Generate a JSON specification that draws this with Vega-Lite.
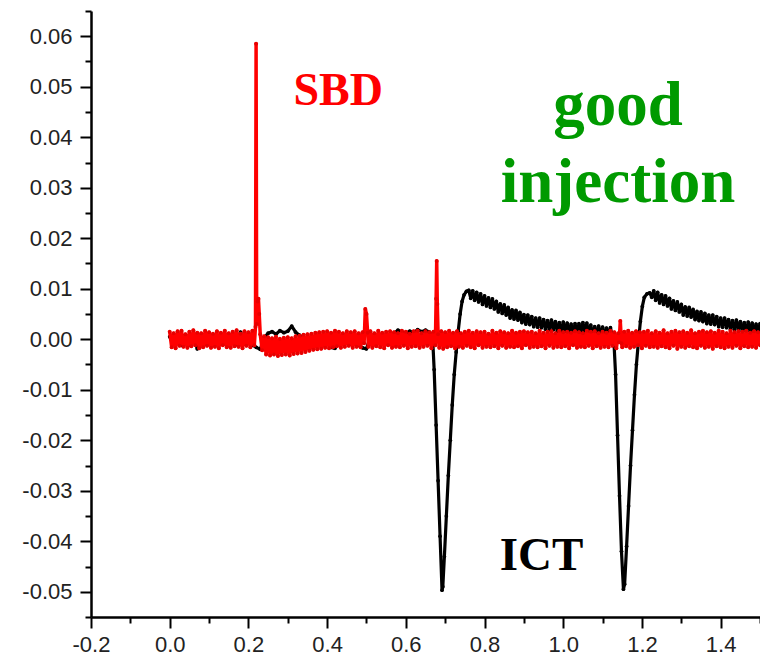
{
 "$schema": "https://vega.github.io/schema/vega-lite/v6.json",
 "width": 669,
 "height": 606,
 "autosize": "none",
 "padding": {"left": 91, "top": 11, "right": 0, "bottom": 42},
 "background": "white",
 "config": {"view": {"stroke": null}},
 "datasets": {
  "ict": [
   {"t":0.00,"v":0.0005},{"t":0.01,"v":-0.0010},{"t":0.02,"v":0.0008},{"t":0.03,"v":-0.0012},{"t":0.04,"v":0.0006},{"t":0.05,"v":-0.0011},{"t":0.06,"v":0.0009},{"t":0.07,"v":-0.0019},{"t":0.08,"v":0.0007},{"t":0.09,"v":-0.0010},
   {"t":0.10,"v":0.0008},{"t":0.11,"v":-0.0012},{"t":0.12,"v":0.0006},{"t":0.13,"v":-0.0009},{"t":0.14,"v":0.0010},{"t":0.15,"v":-0.0011},{"t":0.16,"v":0.0007},{"t":0.17,"v":-0.0010},{"t":0.18,"v":0.0014},{"t":0.19,"v":-0.0009},
   {"t":0.20,"v":0.0008},{"t":0.21,"v":-0.0011},{"t":0.22,"v":-0.0016},{"t":0.23,"v":-0.0020},{"t":0.24,"v":0.0003},{"t":0.25,"v":0.0012},{"t":0.26,"v":0.0015},{"t":0.27,"v":0.0010},{"t":0.28,"v":0.0017},{"t":0.29,"v":0.0013},
   {"t":0.30,"v":0.0016},{"t":0.31,"v":0.0026},{"t":0.32,"v":0.0014},{"t":0.33,"v":0.0008},{"t":0.34,"v":0.0002},{"t":0.35,"v":-0.0006},{"t":0.36,"v":0.0005},{"t":0.37,"v":-0.0008},{"t":0.38,"v":0.0010},{"t":0.39,"v":-0.0007},
   {"t":0.40,"v":0.0011},{"t":0.41,"v":-0.0016},{"t":0.42,"v":-0.0018},{"t":0.43,"v":0.0006},{"t":0.44,"v":-0.0010},{"t":0.45,"v":0.0009},{"t":0.46,"v":-0.0009},{"t":0.47,"v":0.0008},{"t":0.48,"v":-0.0011},{"t":0.49,"v":-0.0017},
   {"t":0.50,"v":-0.0019},{"t":0.51,"v":0.0005},{"t":0.52,"v":-0.0008},{"t":0.53,"v":0.0009},{"t":0.54,"v":-0.0009},{"t":0.55,"v":0.0010},{"t":0.56,"v":-0.0007},{"t":0.57,"v":0.0012},{"t":0.58,"v":0.0018},{"t":0.59,"v":0.0014},
   {"t":0.60,"v":0.0012},{"t":0.61,"v":0.0016},{"t":0.62,"v":0.0013},{"t":0.63,"v":0.0019},{"t":0.64,"v":0.0015},{"t":0.65,"v":0.0018},{"t":0.66,"v":0.0014},{"t":0.668,"v":0.0005},
   {"t":0.672,"v":-0.0060},{"t":0.677,"v":-0.0170},{"t":0.682,"v":-0.0280},{"t":0.687,"v":-0.0390},{"t":0.692,"v":-0.0497},{"t":0.694,"v":-0.0490},{"t":0.698,"v":-0.0430},{"t":0.703,"v":-0.0350},{"t":0.708,"v":-0.0270},{"t":0.713,"v":-0.0200},
   {"t":0.718,"v":-0.0130},{"t":0.723,"v":-0.0070},{"t":0.728,"v":-0.0025},{"t":0.733,"v":0.0015},{"t":0.738,"v":0.0050},{"t":0.743,"v":0.0075},{"t":0.748,"v":0.0088},{"t":0.754,"v":0.0095},
   {"t":0.760,"v":0.0097},{"t":0.765,"v":0.0081},{"t":0.770,"v":0.0096},{"t":0.775,"v":0.0077},{"t":0.780,"v":0.0093},{"t":0.785,"v":0.0074},{"t":0.790,"v":0.0090},{"t":0.795,"v":0.0069},{"t":0.800,"v":0.0086},{"t":0.805,"v":0.0066},
   {"t":0.810,"v":0.0082},{"t":0.815,"v":0.0063},{"t":0.820,"v":0.0080},{"t":0.825,"v":0.0060},{"t":0.830,"v":0.0075},{"t":0.835,"v":0.0054},{"t":0.840,"v":0.0070},{"t":0.845,"v":0.0051},{"t":0.850,"v":0.0068},{"t":0.855,"v":0.0048},
   {"t":0.860,"v":0.0063},{"t":0.865,"v":0.0042},{"t":0.870,"v":0.0058},{"t":0.875,"v":0.0040},{"t":0.880,"v":0.0057},{"t":0.885,"v":0.0038},{"t":0.890,"v":0.0053},{"t":0.895,"v":0.0033},{"t":0.900,"v":0.0049},{"t":0.905,"v":0.0030},
   {"t":0.910,"v":0.0048},{"t":0.915,"v":0.0029},{"t":0.920,"v":0.0045},{"t":0.925,"v":0.0025},{"t":0.930,"v":0.0042},{"t":0.935,"v":0.0024},{"t":0.940,"v":0.0042},{"t":0.945,"v":0.0023},{"t":0.950,"v":0.0039},{"t":0.955,"v":0.0020},
   {"t":0.960,"v":0.0037},{"t":0.965,"v":0.0019},{"t":0.970,"v":0.0038},{"t":0.975,"v":0.0019},{"t":0.980,"v":0.0035},{"t":0.985,"v":0.0016},{"t":0.990,"v":0.0033},{"t":0.995,"v":0.0015},{"t":1.000,"v":0.0034},{"t":1.005,"v":0.0016},
   {"t":1.010,"v":0.0032},{"t":1.015,"v":0.0013},{"t":1.020,"v":0.0030},{"t":1.025,"v":0.0012},{"t":1.030,"v":0.0031},{"t":1.035,"v":0.0013},{"t":1.040,"v":0.0031},{"t":1.045,"v":0.0014},{"t":1.050,"v":0.0033},{"t":1.055,"v":0.0015},
   {"t":1.060,"v":0.0032},{"t":1.065,"v":0.0012},{"t":1.070,"v":0.0028},{"t":1.075,"v":0.0008},{"t":1.080,"v":0.0025},{"t":1.085,"v":0.0008},{"t":1.090,"v":0.0026},{"t":1.095,"v":0.0008},{"t":1.100,"v":0.0024},{"t":1.105,"v":0.0005},
   {"t":1.110,"v":0.0022},{"t":1.115,"v":0.0005},{"t":1.120,"v":0.0023},{"t":1.125,"v":0.0004},{"t":1.128,"v":0.0008},
   {"t":1.133,"v":-0.0070},{"t":1.138,"v":-0.0190},{"t":1.143,"v":-0.0310},{"t":1.148,"v":-0.0420},{"t":1.153,"v":-0.0495},{"t":1.156,"v":-0.0485},{"t":1.161,"v":-0.0410},{"t":1.166,"v":-0.0330},{"t":1.171,"v":-0.0250},{"t":1.176,"v":-0.0180},
   {"t":1.181,"v":-0.0110},{"t":1.186,"v":-0.0050},{"t":1.191,"v":-0.0005},{"t":1.196,"v":0.0035},{"t":1.201,"v":0.0065},{"t":1.206,"v":0.0083},{"t":1.213,"v":0.0090},{"t":1.220,"v":0.0092},
   {"t":1.225,"v":0.0083},{"t":1.230,"v":0.0096},{"t":1.235,"v":0.0077},{"t":1.240,"v":0.0093},{"t":1.245,"v":0.0072},{"t":1.250,"v":0.0088},{"t":1.255,"v":0.0069},{"t":1.260,"v":0.0086},{"t":1.265,"v":0.0066},{"t":1.270,"v":0.0081},
   {"t":1.275,"v":0.0060},{"t":1.280,"v":0.0076},{"t":1.285,"v":0.0057},{"t":1.290,"v":0.0074},{"t":1.295,"v":0.0054},{"t":1.300,"v":0.0069},{"t":1.305,"v":0.0048},{"t":1.310,"v":0.0064},{"t":1.315,"v":0.0046},{"t":1.320,"v":0.0063},
   {"t":1.325,"v":0.0044},{"t":1.330,"v":0.0059},{"t":1.335,"v":0.0039},{"t":1.340,"v":0.0055},{"t":1.345,"v":0.0037},{"t":1.350,"v":0.0054},{"t":1.355,"v":0.0035},{"t":1.360,"v":0.0051},{"t":1.365,"v":0.0031},{"t":1.370,"v":0.0048},
   {"t":1.375,"v":0.0030},{"t":1.380,"v":0.0048},{"t":1.385,"v":0.0029},{"t":1.390,"v":0.0045},{"t":1.395,"v":0.0025},{"t":1.400,"v":0.0042},{"t":1.405,"v":0.0024},{"t":1.410,"v":0.0042},{"t":1.415,"v":0.0023},{"t":1.420,"v":0.0039},
   {"t":1.425,"v":0.0020},{"t":1.430,"v":0.0037},{"t":1.435,"v":0.0019},{"t":1.440,"v":0.0038},{"t":1.445,"v":0.0019},{"t":1.450,"v":0.0035},{"t":1.455,"v":0.0016},{"t":1.460,"v":0.0033},{"t":1.465,"v":0.0015},{"t":1.470,"v":0.0034},
   {"t":1.475,"v":0.0016},{"t":1.480,"v":0.0032},{"t":1.485,"v":0.0013},{"t":1.490,"v":0.0030},{"t":1.495,"v":0.0012},{"t":1.500,"v":0.0031}
  ],
  "sbd": [
   {"t":0.000,"v":0.0015},{"t":0.005,"v":-0.0016},{"t":0.010,"v":0.0012},{"t":0.015,"v":-0.0018},{"t":0.020,"v":0.0016},{"t":0.025,"v":-0.0013},{"t":0.030,"v":0.0017},{"t":0.035,"v":-0.0015},{"t":0.040,"v":0.0010},{"t":0.045,"v":-0.0017},
   {"t":0.050,"v":0.0015},{"t":0.055,"v":-0.0014},{"t":0.060,"v":0.0018},{"t":0.065,"v":-0.0012},{"t":0.070,"v":0.0013},{"t":0.075,"v":-0.0018},{"t":0.080,"v":0.0012},{"t":0.085,"v":-0.0016},{"t":0.090,"v":0.0017},{"t":0.095,"v":-0.0013},
   {"t":0.100,"v":0.0014},{"t":0.105,"v":-0.0017},{"t":0.110,"v":0.0011},{"t":0.115,"v":-0.0015},{"t":0.120,"v":0.0016},{"t":0.125,"v":-0.0018},{"t":0.130,"v":0.0013},{"t":0.135,"v":-0.0012},{"t":0.140,"v":0.0017},{"t":0.145,"v":-0.0016},
   {"t":0.150,"v":0.0012},{"t":0.155,"v":-0.0017},{"t":0.160,"v":0.0015},{"t":0.165,"v":-0.0014},{"t":0.170,"v":0.0018},{"t":0.175,"v":-0.0015},{"t":0.180,"v":0.0011},{"t":0.185,"v":-0.0018},{"t":0.190,"v":0.0016},{"t":0.195,"v":-0.0013},
   {"t":0.200,"v":0.0014},{"t":0.205,"v":-0.0016},{"t":0.210,"v":0.0017},{"t":0.215,"v":-0.0012},
   {"t":0.218,"v":0.0025},{"t":0.2195,"v":0.0585},{"t":0.221,"v":0.0030},{"t":0.2235,"v":0.0075},{"t":0.2255,"v":0.0080},{"t":0.2275,"v":0.0050},{"t":0.230,"v":0.0010},
   {"t":0.235,"v":-0.0022},{"t":0.240,"v":0.0006},{"t":0.245,"v":-0.0030},{"t":0.250,"v":0.0004},{"t":0.255,"v":-0.0032},{"t":0.260,"v":0.0002},{"t":0.265,"v":-0.0030},{"t":0.270,"v":0.0005},{"t":0.275,"v":-0.0033},{"t":0.280,"v":0.0001},
   {"t":0.285,"v":-0.0031},{"t":0.290,"v":0.0003},{"t":0.295,"v":-0.0030},{"t":0.300,"v":0.0004},{"t":0.305,"v":-0.0032},{"t":0.310,"v":0.0002},{"t":0.315,"v":-0.0029},{"t":0.320,"v":0.0006},{"t":0.325,"v":-0.0028},{"t":0.330,"v":0.0007},
   {"t":0.335,"v":-0.0027},{"t":0.340,"v":0.0009},{"t":0.345,"v":-0.0025},{"t":0.350,"v":0.0010},{"t":0.355,"v":-0.0023},{"t":0.360,"v":0.0011},{"t":0.365,"v":-0.0021},{"t":0.370,"v":0.0013},{"t":0.375,"v":-0.0020},{"t":0.380,"v":0.0014},
   {"t":0.385,"v":-0.0019},{"t":0.390,"v":0.0015},{"t":0.395,"v":-0.0017},{"t":0.400,"v":0.0016},{"t":0.405,"v":-0.0018},{"t":0.410,"v":0.0013},{"t":0.415,"v":-0.0016},{"t":0.420,"v":0.0017},{"t":0.425,"v":-0.0014},{"t":0.430,"v":0.0015},
   {"t":0.435,"v":-0.0017},{"t":0.440,"v":0.0012},{"t":0.445,"v":-0.0015},{"t":0.450,"v":0.0016},{"t":0.455,"v":-0.0013},{"t":0.460,"v":0.0014},{"t":0.465,"v":-0.0017},{"t":0.470,"v":0.0016},{"t":0.475,"v":-0.0015},{"t":0.480,"v":0.0012},
   {"t":0.485,"v":-0.0016},{"t":0.490,"v":0.0014},{"t":0.494,"v":-0.0008},{"t":0.497,"v":0.0060},{"t":0.500,"v":0.0050},{"t":0.503,"v":0.0013},
   {"t":0.505,"v":-0.0015},{"t":0.510,"v":0.0016},{"t":0.515,"v":-0.0017},{"t":0.520,"v":0.0012},{"t":0.525,"v":-0.0014},{"t":0.530,"v":0.0017},{"t":0.535,"v":-0.0016},{"t":0.540,"v":0.0013},{"t":0.545,"v":-0.0018},{"t":0.550,"v":0.0015},
   {"t":0.555,"v":-0.0012},{"t":0.560,"v":0.0016},{"t":0.565,"v":-0.0017},{"t":0.570,"v":0.0014},{"t":0.575,"v":-0.0015},{"t":0.580,"v":0.0012},{"t":0.585,"v":-0.0016},{"t":0.590,"v":0.0017},{"t":0.595,"v":-0.0013},{"t":0.600,"v":0.0015},
   {"t":0.605,"v":-0.0018},{"t":0.610,"v":0.0011},{"t":0.615,"v":-0.0015},{"t":0.620,"v":0.0016},{"t":0.625,"v":-0.0014},{"t":0.630,"v":0.0017},{"t":0.635,"v":-0.0017},{"t":0.640,"v":0.0012},{"t":0.645,"v":-0.0015},{"t":0.650,"v":0.0016},
   {"t":0.655,"v":-0.0013},{"t":0.660,"v":0.0014},{"t":0.665,"v":-0.0018},{"t":0.670,"v":0.0015},{"t":0.675,"v":-0.0012},
   {"t":0.677,"v":0.0080},{"t":0.6785,"v":0.0155},{"t":0.680,"v":0.0070},{"t":0.682,"v":0.0010},
   {"t":0.685,"v":-0.0017},{"t":0.690,"v":0.0016},{"t":0.695,"v":-0.0019},{"t":0.700,"v":0.0014},{"t":0.705,"v":-0.0016},{"t":0.710,"v":0.0017},{"t":0.715,"v":-0.0014},{"t":0.720,"v":0.0013},{"t":0.725,"v":-0.0018},{"t":0.730,"v":0.0016},
   {"t":0.735,"v":-0.0015},{"t":0.740,"v":0.0012},{"t":0.745,"v":-0.0017},{"t":0.750,"v":0.0015},{"t":0.755,"v":-0.0013},{"t":0.760,"v":0.0017},{"t":0.765,"v":-0.0016},{"t":0.770,"v":0.0013},{"t":0.775,"v":-0.0018},{"t":0.780,"v":0.0016},
   {"t":0.785,"v":-0.0012},{"t":0.790,"v":0.0014},{"t":0.795,"v":-0.0017},{"t":0.800,"v":0.0015},{"t":0.805,"v":-0.0015},{"t":0.810,"v":0.0011},{"t":0.815,"v":-0.0016},{"t":0.820,"v":0.0017},{"t":0.825,"v":-0.0014},{"t":0.830,"v":0.0013},
   {"t":0.835,"v":-0.0018},{"t":0.840,"v":0.0016},{"t":0.845,"v":-0.0013},{"t":0.850,"v":0.0014},{"t":0.855,"v":-0.0017},{"t":0.860,"v":0.0012},{"t":0.865,"v":-0.0015},{"t":0.870,"v":0.0017},{"t":0.875,"v":-0.0016},{"t":0.880,"v":0.0013},
   {"t":0.885,"v":-0.0014},{"t":0.890,"v":0.0015},{"t":0.895,"v":-0.0018},{"t":0.900,"v":0.0016},{"t":0.905,"v":-0.0012},{"t":0.910,"v":0.0014},{"t":0.915,"v":-0.0017},{"t":0.920,"v":0.0015},{"t":0.925,"v":-0.0015},{"t":0.930,"v":0.0012},
   {"t":0.935,"v":-0.0016},{"t":0.940,"v":0.0017},{"t":0.945,"v":-0.0014},{"t":0.950,"v":0.0013},{"t":0.955,"v":-0.0018},{"t":0.960,"v":0.0015},{"t":0.965,"v":-0.0013},{"t":0.970,"v":0.0016},{"t":0.975,"v":-0.0017},{"t":0.980,"v":0.0012},
   {"t":0.985,"v":-0.0015},{"t":0.990,"v":0.0017},{"t":0.995,"v":-0.0016},{"t":1.000,"v":0.0014},{"t":1.005,"v":-0.0014},{"t":1.010,"v":0.0015},{"t":1.015,"v":-0.0018},{"t":1.020,"v":0.0013},{"t":1.025,"v":-0.0012},{"t":1.030,"v":0.0016},
   {"t":1.035,"v":-0.0017},{"t":1.040,"v":0.0014},{"t":1.045,"v":-0.0015},{"t":1.050,"v":0.0012},{"t":1.055,"v":-0.0016},{"t":1.060,"v":0.0017},{"t":1.065,"v":-0.0013},{"t":1.070,"v":0.0015},{"t":1.075,"v":-0.0018},{"t":1.080,"v":0.0016},
   {"t":1.085,"v":-0.0014},{"t":1.090,"v":0.0012},{"t":1.095,"v":-0.0017},{"t":1.100,"v":0.0015},{"t":1.105,"v":-0.0015},{"t":1.110,"v":0.0013},{"t":1.115,"v":-0.0016},{"t":1.120,"v":0.0017},{"t":1.125,"v":-0.0013},{"t":1.130,"v":0.0014},
   {"t":1.135,"v":-0.0018},{"t":1.140,"v":0.0012},{"t":1.142,"v":-0.0006},{"t":1.145,"v":0.0036},{"t":1.148,"v":-0.0008},
   {"t":1.150,"v":-0.0016},{"t":1.155,"v":0.0015},{"t":1.160,"v":-0.0014},{"t":1.165,"v":0.0017},{"t":1.170,"v":-0.0017},{"t":1.175,"v":0.0013},{"t":1.180,"v":-0.0015},{"t":1.185,"v":0.0016},{"t":1.190,"v":-0.0012},{"t":1.195,"v":0.0014},
   {"t":1.200,"v":-0.0018},{"t":1.205,"v":0.0015},{"t":1.210,"v":-0.0013},{"t":1.215,"v":0.0017},{"t":1.220,"v":-0.0016},{"t":1.225,"v":0.0012},{"t":1.230,"v":-0.0015},{"t":1.235,"v":0.0016},{"t":1.240,"v":-0.0017},{"t":1.245,"v":0.0013},
   {"t":1.250,"v":-0.0014},{"t":1.255,"v":0.0018},{"t":1.260,"v":-0.0016},{"t":1.265,"v":0.0012},{"t":1.270,"v":-0.0018},{"t":1.275,"v":0.0015},{"t":1.280,"v":-0.0013},{"t":1.285,"v":0.0017},{"t":1.290,"v":-0.0019},{"t":1.295,"v":0.0014},
   {"t":1.300,"v":-0.0015},{"t":1.305,"v":0.0016},{"t":1.310,"v":-0.0017},{"t":1.315,"v":0.0013},{"t":1.320,"v":-0.0014},{"t":1.325,"v":0.0018},{"t":1.330,"v":-0.0016},{"t":1.335,"v":0.0012},{"t":1.340,"v":-0.0018},{"t":1.345,"v":0.0015},
   {"t":1.350,"v":-0.0013},{"t":1.355,"v":0.0017},{"t":1.360,"v":-0.0017},{"t":1.365,"v":0.0014},{"t":1.370,"v":-0.0015},{"t":1.375,"v":0.0016},{"t":1.380,"v":-0.0019},{"t":1.385,"v":0.0013},{"t":1.390,"v":-0.0014},{"t":1.395,"v":0.0017},
   {"t":1.400,"v":-0.0016},{"t":1.405,"v":0.0015},{"t":1.410,"v":-0.0018},{"t":1.415,"v":0.0012},{"t":1.420,"v":-0.0015},{"t":1.425,"v":0.0017},{"t":1.430,"v":-0.0017},{"t":1.435,"v":0.0014},{"t":1.440,"v":-0.0013},{"t":1.445,"v":0.0016},
   {"t":1.450,"v":-0.0018},{"t":1.455,"v":0.0015},{"t":1.460,"v":-0.0014},{"t":1.465,"v":0.0017},{"t":1.470,"v":-0.0016},{"t":1.475,"v":0.0013},{"t":1.480,"v":-0.0015},{"t":1.485,"v":0.0016},{"t":1.490,"v":-0.0017},{"t":1.495,"v":0.0014},
   {"t":1.500,"v":-0.0012}
  ],
  "labels": [{"k": 1}]
 },
 "layer": [
  {
   "data": {"name": "ict"},
   "mark": {"type": "line", "color": "#000000", "strokeWidth": 3.2, "strokeJoin": "round", "clip": true, "point": {"filled": true, "size": 14, "color": "#000000"}},
   "encoding": {
    "x": {"field": "t", "type": "quantitative", "scale": {"domain": [-0.2, 1.5], "nice": false, "zero": false},
     "axis": {"orient": "bottom", "values": [-0.2, 0, 0.2, 0.4, 0.6, 0.8, 1.0, 1.2, 1.4], "labelExpr": "replace(format(datum.value, '.1f'), '\u2212', '-')", "title": null, "grid": false, "domain": true, "domainColor": "#000000", "domainWidth": 2.5, "ticks": true, "tickColor": "#000000", "tickWidth": 2, "tickSize": 11, "labelFont": "Liberation Sans", "labelFontSize": 22, "labelColor": "#222222", "labelPadding": 6, "labelFlush": false, "labelOverlap": false}},
    "y": {"field": "v", "type": "quantitative", "scale": {"domain": [-0.055, 0.065], "nice": false, "zero": false},
     "axis": {"orient": "left", "values": [-0.05, -0.04, -0.03, -0.02, -0.01, 0, 0.01, 0.02, 0.03, 0.04, 0.05, 0.06], "labelExpr": "replace(format(datum.value, '.2f'), '\u2212', '-')", "title": null, "grid": false, "domain": true, "domainColor": "#000000", "domainWidth": 2.5, "ticks": true, "tickColor": "#000000", "tickWidth": 2, "tickSize": 11, "labelFont": "Liberation Sans", "labelFontSize": 22, "labelColor": "#222222", "labelPadding": 8, "labelFlush": false, "labelOverlap": false}}
   }
  },
  {
   "data": {"name": "sbd"},
   "mark": {"type": "line", "color": "#ff0000", "strokeWidth": 3.5, "strokeJoin": "round", "clip": true, "point": {"filled": true, "size": 16, "color": "#e80000"}},
   "encoding": {
    "x": {"field": "t", "type": "quantitative", "scale": {"domain": [-0.2, 1.5], "nice": false, "zero": false},
     "axis": {"orient": "bottom", "values": [-0.1, 0.1, 0.3, 0.5, 0.7, 0.9, 1.1, 1.3, 1.5], "labels": false, "title": null, "grid": false, "domain": false, "ticks": true, "tickColor": "#000000", "tickWidth": 2, "tickSize": 6}},
    "y": {"field": "v", "type": "quantitative", "scale": {"domain": [-0.055, 0.065], "nice": false, "zero": false},
     "axis": {"orient": "left", "values": [-0.055, -0.045, -0.035, -0.025, -0.015, -0.005, 0.005, 0.015, 0.025, 0.035, 0.045, 0.055, 0.065], "labels": false, "title": null, "grid": false, "domain": false, "ticks": true, "tickColor": "#000000", "tickWidth": 2, "tickSize": 6}}
   }
  },
  {
   "data": {"name": "labels"},
   "mark": {"type": "text", "text": "SBD", "font": "Liberation Serif", "fontWeight": "bold", "fontSize": 46, "color": "#ff0000", "align": "center", "baseline": "alphabetic"},
   "encoding": {"x": {"datum": 0.428, "type": "quantitative", "axis": null}, "y": {"datum": 0.0464, "type": "quantitative", "axis": null}}
  },
  {
   "data": {"name": "labels"},
   "mark": {"type": "text", "text": "good", "font": "Liberation Serif", "fontWeight": "bold", "fontSize": 63, "color": "#009a00", "align": "center", "baseline": "alphabetic"},
   "encoding": {"x": {"datum": 1.139, "type": "quantitative", "axis": null}, "y": {"datum": 0.0424, "type": "quantitative", "axis": null}}
  },
  {
   "data": {"name": "labels"},
   "mark": {"type": "text", "text": "injection", "font": "Liberation Serif", "fontWeight": "bold", "fontSize": 63, "color": "#009a00", "align": "center", "baseline": "alphabetic"},
   "encoding": {"x": {"datum": 1.139, "type": "quantitative", "axis": null}, "y": {"datum": 0.0272, "type": "quantitative", "axis": null}}
  },
  {
   "data": {"name": "labels"},
   "mark": {"type": "text", "text": "ICT", "font": "Liberation Serif", "fontWeight": "bold", "fontSize": 47, "color": "#000000", "align": "center", "baseline": "alphabetic"},
   "encoding": {"x": {"datum": 0.945, "type": "quantitative", "axis": null}, "y": {"datum": -0.0457, "type": "quantitative", "axis": null}}
  }
 ],
 "resolve": {"axis": {"x": "independent", "y": "independent"}}
}
